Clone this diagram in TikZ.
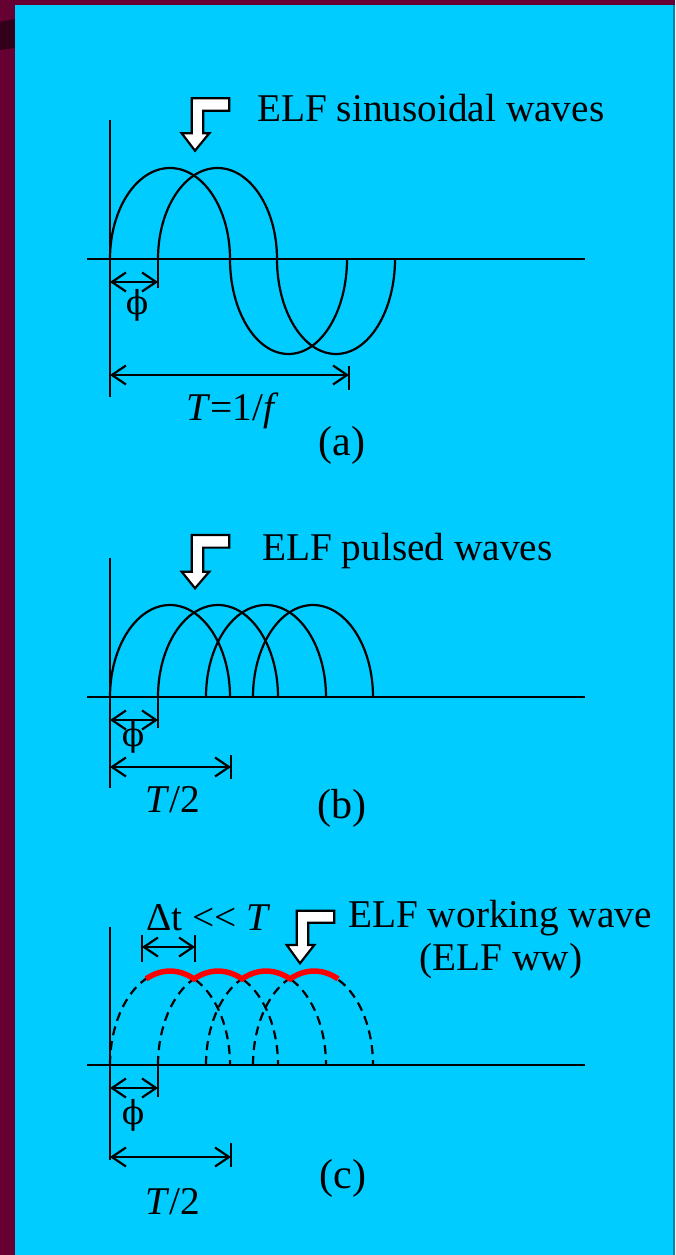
\documentclass[tikz,border=0pt]{standalone}
\usepackage{fontspec}
\setmainfont{Liberation Serif}
\newfontfamily\phifont{DejaVu Serif}
\usetikzlibrary{arrows.meta}
\definecolor{bgmaroon}{HTML}{660033}
\definecolor{bgdark}{HTML}{33001A}
\definecolor{panel}{HTML}{00CCFF}
\definecolor{edge}{HTML}{0088AA}
\definecolor{wwred}{HTML}{FF0000}
\begin{document}
\begin{tikzpicture}[x=1pt,y=-1pt,
  ln/.style={line width=2.2pt,black},
  dashln/.style={line width=2.2pt,black,dash pattern=on 9pt off 6pt},
  redln/.style={line width=5.5pt,wwred},
  dimarrow/.style={line width=2.2pt,{Straight Barb[length=14pt,width=19pt]}-{Straight Barb[length=14pt,width=19pt]}},
  blockarrow/.style={line width=2.2pt,draw=black,fill=white,line join=miter},
  lbl/.style={font=\fontsize{39.3}{45}\selectfont,inner sep=0pt,text=black},
  caplbl/.style={font=\fontsize{42}{48}\selectfont,inner sep=0pt,text=black},
  philbl/.style={font=\phifont\fontsize{33}{40}\selectfont,inner sep=0pt,text=black}]
% background
\fill[bgmaroon] (0,0) rectangle (675,1255);
\fill[bgdark] (0,22) -- (15,19) -- (15,48) -- (0,50) -- cycle;
\fill[panel] (15,5) rectangle (673,1255);
\fill[edge] (673,5) rectangle (675,1255);
\useasboundingbox (0,0) rectangle (675,1255);

% ================= (a) =================
\draw[ln] (110,120) -- (110,397);
\draw[ln] (87,259) -- (585,259);
\draw[ln] (110,259) arc[start angle=180,end angle=0,x radius=60pt,y radius=91pt]
                    arc[start angle=180,end angle=360,x radius=58.5pt,y radius=95pt];
\draw[ln] (158,259) arc[start angle=180,end angle=0,x radius=59.5pt,y radius=91pt]
                    arc[start angle=180,end angle=360,x radius=59pt,y radius=95pt];
\coordinate (aphiL) at (110,282);
\coordinate (aphiR) at (158,282);
\draw[ln] (158,259) -- (158,288);
\draw[dimarrow] (aphiL) -- (aphiR);
\node[philbl] (aphi) at (137,305) {ϕ};
\coordinate (aTL) at (110,375);
\coordinate (aTR) at (349,375);
\draw[ln] (349,366) -- (349,390);
\draw[dimarrow] (aTL) -- (aTR);
\node[lbl,anchor=base west] (aT) at (186,420) {\textit{T}=1/\textit{f}};
\node[caplbl,anchor=base] (acap) at (342,455) {(a)};
\begin{scope}[shift={(191.7,98.3)}]
\draw[blockarrow] (0,0) -- (37.6,0) -- (37.6,12.4) -- (11.6,12.4) -- (11.6,35) -- (17.6,35) -- (3.3,52.4) -- (-10,35) -- (0,35) -- cycle;
\end{scope}
\node[lbl,anchor=base west] (atitle) at (257,121) {ELF sinusoidal waves};

% ================= (b) =================
\draw[ln] (110,558) -- (110,788);
\draw[ln] (87,697) -- (585,697);
\foreach \s in {110,158,206,253}{
  \draw[ln] (\s,697) arc[start angle=180,end angle=0,x radius=60pt,y radius=92pt];
}
\coordinate (bphiL) at (110,720);
\coordinate (bphiR) at (158,720);
\draw[ln] (158,697) -- (158,728);
\draw[dimarrow] (bphiL) -- (bphiR);
\node[philbl] (bphi) at (133,737) {ϕ};
\coordinate (bTL) at (110,767);
\coordinate (bTR) at (231,767);
\draw[ln] (231,755) -- (231,779);
\draw[dimarrow] (bTL) -- (bTR);
\node[lbl,anchor=base west] (bT) at (145,812) {\textit{T}/2};
\node[caplbl,anchor=base] (bcap) at (342,818) {(b)};
\begin{scope}[shift={(191.7,535)}]
\draw[blockarrow] (0,0) -- (37.6,0) -- (37.6,12.6) -- (11.6,12.6) -- (11.6,36.7) -- (17.6,36.7) -- (3.3,53.3) -- (-10,36.7) -- (0,36.7) -- cycle;
\end{scope}
\node[lbl,anchor=base west] (btitle) at (262,560) {ELF pulsed waves};

% ================= (c) =================
\draw[ln] (110,927) -- (110,1160);
\draw[ln] (87,1065) -- (585,1065);
\foreach \s in {110,158,206,253}{
  \draw[dashln] (\s,1065) arc[start angle=180,end angle=0,x radius=60pt,y radius=94pt];
}
\draw[redln] (146,978.9) arc[start angle=113.6,end angle=66.4,x radius=60pt,y radius=94pt]
                         arc[start angle=113.6,end angle=66.4,x radius=60pt,y radius=94pt]
                         arc[start angle=113.6,end angle=66.4,x radius=60pt,y radius=94pt]
                         arc[start angle=113.6,end angle=66.4,x radius=60pt,y radius=94pt];
\coordinate (cdL) at (142,947);
\coordinate (cdR) at (195,947);
\draw[ln] (142,935) -- (142,962);
\draw[ln] (195,935) -- (195,962);
\draw[dimarrow] (cdL) -- (cdR);
\node[lbl,anchor=base west] (cdt) at (146,930) {Δt <{}< \textit{T}};
\coordinate (cphiL) at (110,1088);
\coordinate (cphiR) at (158,1088);
\draw[ln] (158,1065) -- (158,1097);
\draw[dimarrow] (cphiL) -- (cphiR);
\node[philbl] (cphi) at (133,1115) {ϕ};
\coordinate (cTL) at (110,1157);
\coordinate (cTR) at (231,1157);
\draw[ln] (231,1143) -- (231,1167);
\draw[dimarrow] (cTL) -- (cTR);
\node[lbl,anchor=base west] (cT) at (145.5,1214.6) {\textit{T}/2};
\node[caplbl,anchor=base] (ccap) at (343,1188) {(c)};
\begin{scope}[shift={(296.7,910.7)}]
\draw[blockarrow] (0,0) -- (37.6,0) -- (37.6,12) -- (11.6,12) -- (11.6,34.3) -- (17.6,34.3) -- (3.3,52.6) -- (-10,34.3) -- (0,34.3) -- cycle;
\end{scope}
\node[lbl,anchor=base] (ctitle1) at (500,927) {ELF working wave};
\node[lbl,anchor=base] (ctitle2) at (501,970) {(ELF ww)};
\end{tikzpicture}
\end{document}
